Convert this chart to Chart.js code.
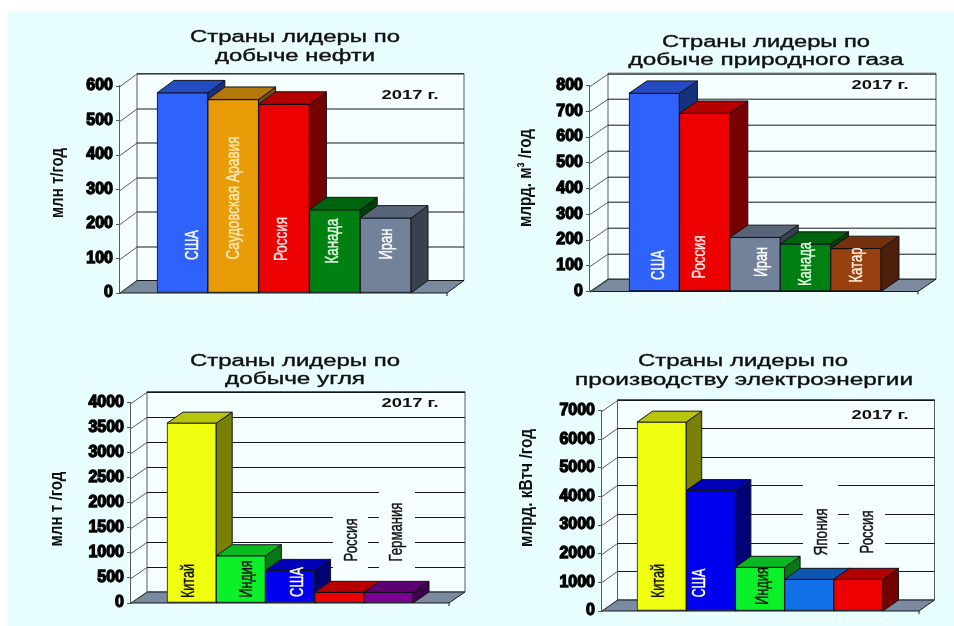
<!DOCTYPE html>
<html lang="ru">
<head>
<meta charset="utf-8">
<title>Страны лидеры по добыче и производству</title>
<script src="https://cdn.jsdelivr.net/npm/chart.js@4"></script>
<style>
  html, body { margin: 0; padding: 0; background: #fff; width: 954px; height: 626px; overflow: hidden; }
  #panel { position: absolute; left: 7px; top: 11px; width: 947px; height: 615px; background: #e9ffff; }
  canvas { position: absolute; display: block; }
</style>
</head>
<body>
<div id="panel"></div>
<script>
// Oil output, million tonnes per year
const oilCategories = ['США', 'Саудовская Аравия', 'Россия', 'Канада', 'Иран'];
const oilValues = [580, 561, 547, 241, 217];
const oilTicks = [0, 100, 200, 300, 400, 500, 600];

// Natural gas output, billion cubic metres per year
const gasCategories = ['США', 'Россия', 'Иран', 'Канада', 'Катар'];
const gasValues = [770, 692, 210, 184, 167];
const gasTicks = [0, 100, 200, 300, 400, 500, 600, 700, 800];

// Coal output, million tonnes per year
const coalCategories = ['Китай', 'Индия', 'США', 'Россия', 'Германия'];
const coalValues = [3588, 943, 651, 213, 213];
const coalTicks = [0, 500, 1000, 1500, 2000, 2500, 3000, 3500, 4000];

// Electricity generation, billion kWh per year
const powerCategories = ['Китай', 'США', 'Индия', 'Япония', 'Россия'];
const powerValues = [6592, 4205, 1526, 1106, 1106];
const powerTicks = [0, 1000, 2000, 3000, 4000, 5000, 6000, 7000];

const yearLabel = '2017 г.';
const WALL = '#f6ffff', FLOOR = '#7b8a9e', LINE = '#15181c', FRAME = '#555b60', INK = '#101010';
const BLUE = '#2f62fa', AMBER = '#e89c08', RED = '#ec0000', DARKGREEN = '#008012', SLATE = '#72829a',
      BROWN = '#98400f', YELLOW = '#f0ff10', LIME = '#0cf02a', DEEPBLUE = '#0000ee', PURPLE = '#7a0096', AZURE = '#1070e8';

// Page-space geometry of each panel: x0/x1 floor front, y0/yTop value axis, bars from barL to barR.
const panels = [
  { categories: oilCategories, values: oilValues, ticks: oilTicks, colors: [BLUE, AMBER, RED, DARKGREEN, SLATE],
    origin: [0, 0], x0: 120, x1: 447, y0: 293, yTop: 86, barL: 157, barR: 411, dx: 17, dy: 12.5,
    title: [['Страны лидеры по', 295, 38, 210], ['добыче нефти', 295, 57, 160]],
    year: [410, 95], axisTitle: ['млн т/год', 58, 183, 70],
    notes: [[193, 245, 30, '#fff'], [234, 198, 123, '#ffe9b8'], [282, 239, 44, '#ffe8e8'], [333, 241, 45, '#e6ffe6'], [387, 244, 31, '#fff']],
    gaps: [] },
  { categories: gasCategories, values: gasValues, ticks: gasTicks, colors: [BLUE, RED, SLATE, DARKGREEN, BROWN],
    origin: [477, 0], x0: 590, x1: 918, y0: 291.5, yTop: 85.5, barL: 629, barR: 881, dx: 18, dy: 12.3,
    title: [['Страны лидеры по', 766, 43, 208], ['добыче природного газа', 766, 61, 275]],
    year: [880, 85], axisTitle: ['млрд. м³ /год', 526, 178, 98],
    notes: [[659, 265, 30, '#fff'], [700, 257, 43, '#ffe8e8'], [762, 262, 30, '#fff'], [806, 264, 44, '#e6ffe6'], [857, 265, 35, '#fff0e0']],
    gaps: [] },
  { categories: coalCategories, values: coalValues, ticks: coalTicks, colors: [YELLOW, LIME, DEEPBLUE, RED, PURPLE],
    origin: [0, 313], x0: 131, x1: 449, y0: 603, yTop: 402.5, barL: 167, barR: 413, dx: 16, dy: 11,
    title: [['Страны лидеры по', 295, 362, 210], ['добыче угля', 295, 380, 140]],
    year: [410, 403], axisTitle: ['млн т /год', 57, 509, 75],
    notes: [[189, 581, 34, INK], [247, 579, 37, INK], [298, 582, 30, '#fff'], [352, 540, 43, INK], [397, 532, 59, INK]],
    gaps: [[333, 513, 35, 57], [379, 488, 36, 82]] },
  { categories: powerCategories, values: powerValues, ticks: powerTicks, colors: [YELLOW, DEEPBLUE, LIME, AZURE, RED],
    origin: [477, 313], x0: 602, x1: 919, y0: 611, yTop: 410.5, barL: 637, barR: 883, dx: 15.5, dy: 11,
    title: [['Страны лидеры по', 743, 362, 210], ['производству электроэнергии', 744, 381, 338]],
    year: [880, 415], axisTitle: ['млрд. кВтч /год', 527, 488, 118],
    notes: [[659, 581, 34, INK], [700, 583, 29, '#fff'], [763, 586, 38, INK], [822, 532, 47, INK], [868, 532, 43, INK]],
    gaps: [[803, 480, 35, 67], [849, 508, 36, 39]] }
];

// Darken a #rrggbb colour for the top and side faces of a bar.
function shade(hex, k) {
  const n = parseInt(hex.slice(1), 16);
  const c = s => Math.round(((n >> s) & 255) * k);
  return `rgb(${c(16)},${c(8)},${c(0)})`;
}

function poly(ctx, pts, fill, stroke) {
  ctx.beginPath();
  pts.forEach((p, i) => i ? ctx.lineTo(p[0], p[1]) : ctx.moveTo(p[0], p[1]));
  ctx.closePath();
  if (fill) { ctx.fillStyle = fill; ctx.fill(); }
  if (stroke) { ctx.strokeStyle = stroke; ctx.lineWidth = 1; ctx.stroke(); }
}

// Write text centred at (x, y), stretched or condensed to the given run length.
function fitted(ctx, text, x, y, length, font, color, angle, weight) {
  ctx.save();
  ctx.font = font;
  ctx.fillStyle = color;
  ctx.strokeStyle = color;
  ctx.lineWidth = weight || 0;
  ctx.textAlign = 'center';
  ctx.textBaseline = 'middle';
  const natural = ctx.measureText(text).width;
  ctx.translate(x, y);
  ctx.rotate(angle || 0);
  ctx.scale(length / natural, 1);
  if (weight) ctx.strokeText(text, 0, 0);
  ctx.fillText(text, 0, 0);
  ctx.restore();
}

// Back wall, side wall, floor and the raised faces of the bars.
const stage = {
  id: 'stage',
  beforeDatasetsDraw(chart, args, opts) {
    const { ctx, chartArea: a, scales: { y } } = chart;
    const p = opts.panel, dx = p.dx, dy = p.dy;
    const base = y.getPixelForValue(p.ticks[0]);
    const top = y.getPixelForValue(p.ticks[p.ticks.length - 1]);
    ctx.save();
    poly(ctx, [[a.left, base], [a.left + dx, base - dy], [a.left + dx, top - dy], [a.left, top]], WALL);
    poly(ctx, [[a.left + dx, top - dy], [a.right + dx, top - dy], [a.right + dx, base - dy], [a.left + dx, base - dy]], WALL, FRAME);
    poly(ctx, [[a.left, base], [a.right, base], [a.right + dx, base - dy], [a.left + dx, base - dy]], FLOOR, LINE);
    ctx.lineWidth = 1;
    p.ticks.forEach(v => {
      const py = Math.round(y.getPixelForValue(v)) + 0.5;
      ctx.strokeStyle = FRAME;
      ctx.beginPath();
      ctx.moveTo(a.left, py);
      ctx.lineTo(a.left + dx, py - dy);
      ctx.stroke();
      if (v !== p.ticks[0]) {
        ctx.strokeStyle = LINE;
        ctx.beginPath();
        ctx.moveTo(a.left + dx, py - dy);
        ctx.lineTo(a.right + dx, py - dy);
        ctx.stroke();
      }
    });
    ctx.strokeStyle = LINE;
    ctx.beginPath();
    ctx.moveTo(a.right, base);
    ctx.lineTo(a.right, base + 3);
    ctx.stroke();
    // Clear the wall behind labels that stand above short bars.
    ctx.fillStyle = WALL;
    p.gaps.forEach(g => ctx.fillRect(g[0] - p.origin[0], g[1] - p.origin[1], g[2], g[3]));
    // Left to right so that each bar's top covers the previous bar's side.
    chart.getDatasetMeta(0).data.forEach((bar, i) => {
      const hw = bar.width / 2, color = p.colors[i];
      const l = bar.x - hw, r = bar.x + hw, t = bar.y;
      poly(ctx, [[r, t], [r + dx, t - dy], [r + dx, base - dy], [r, base]], shade(color, 0.5), '#10131c');
      poly(ctx, [[l, t], [l + dx, t - dy], [r + dx, t - dy], [r, t]], shade(color, 0.77), '#10131c');
    });
    ctx.restore();
  },
  afterDraw(chart, args, opts) {
    const { ctx } = chart;
    const p = opts.panel;
    ctx.save();
    ctx.translate(-p.origin[0], -p.origin[1]);
    p.title.forEach(l => fitted(ctx, l[0], l[1], l[2], l[3], '16px "Liberation Sans"', INK, 0, 0.35));
    fitted(ctx, yearLabel, p.year[0], p.year[1], 57, 'bold 13px "Liberation Sans"', INK);
    const t = p.axisTitle;
    fitted(ctx, t[0], t[1], t[2], t[3], 'bold 19px "Liberation Sans"', INK, -Math.PI / 2);
    p.categories.forEach((name, i) => {
      const n = p.notes[i];
      fitted(ctx, name, n[0], n[1], n[2], '19px "Liberation Sans"', n[3], -Math.PI / 2, 0.4);
    });
    ctx.restore();
  }
};

const AXIS_WIDTH = 60;
const CANVAS_W = 477, CANVAS_H = 313;

panels.forEach(p => {
  const canvas = document.createElement('canvas');
  canvas.width = CANVAS_W;
  canvas.height = CANVAS_H;
  canvas.style.left = p.origin[0] + 'px';
  canvas.style.top = p.origin[1] + 'px';
  document.body.appendChild(canvas);

  const left = p.x0 - p.origin[0], right = p.x1 - p.origin[0];
  const top = p.yTop - p.origin[1], bottom = p.y0 - p.origin[1];
  const band = (p.barR - p.barL) / p.categories.length;

  new Chart(canvas, {
    type: 'bar',
    data: {
      datasets: [{
        data: p.categories.map((c, i) => ({ x: i, y: p.values[i] })),
        backgroundColor: p.colors,
        borderColor: '#10131c',
        borderWidth: 1,
        borderSkipped: false,
        barPercentage: 1,
        categoryPercentage: 1
      }]
    },
    options: {
      responsive: false,
      animation: false,
      events: [],
      layout: { padding: { left: left - AXIS_WIDTH, right: CANVAS_W - right, top, bottom: CANVAS_H - bottom } },
      plugins: { legend: { display: false }, title: { display: false }, tooltip: { enabled: false }, stage: { panel: p } },
      scales: {
        x: {
          type: 'linear',
          display: false,
          offset: false,
          min: (p.x0 - p.barL) / band - 0.5,
          max: (p.x1 - p.barL) / band - 0.5
        },
        y: {
          min: p.ticks[0],
          max: p.ticks[p.ticks.length - 1],
          afterFit(scale) { scale.width = AXIS_WIDTH; },
          afterBuildTicks(scale) { scale.ticks = p.ticks.map(value => ({ value })); },
          border: { display: true, color: FRAME, width: 1.5 },
          grid: { drawOnChartArea: false, drawTicks: true, tickLength: 4, color: FRAME },
          ticks: {
            autoSkip: false,
            padding: 3,
            color: '#000',
            textStrokeColor: '#000',
            textStrokeWidth: 1.3,
            font: { family: '"Liberation Sans"', size: 16, weight: 'bold' },
            callback: value => String(value)
          }
        }
      }
    },
    plugins: [stage]
  });
});
</script>
</body>
</html>
